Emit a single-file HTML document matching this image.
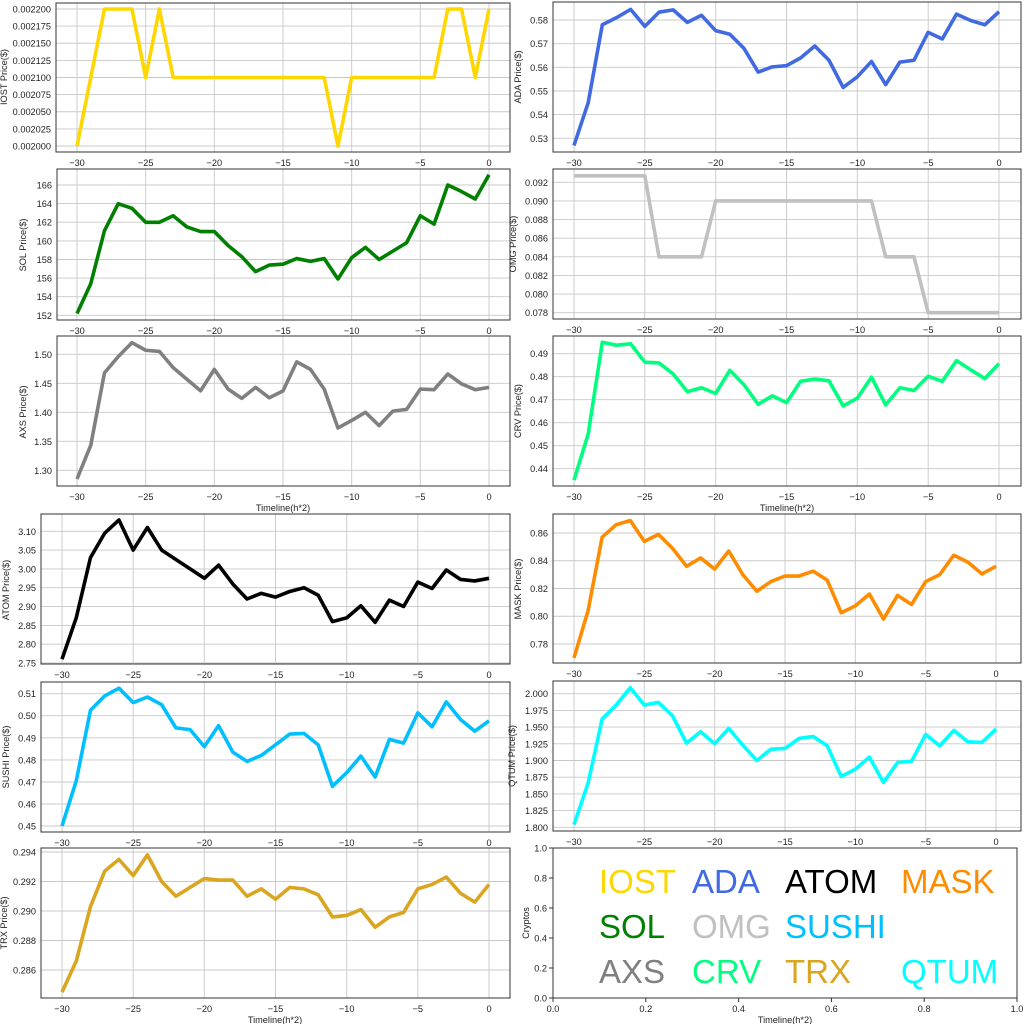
<!DOCTYPE html>
<html><head><meta charset="utf-8"><style>
html,body{margin:0;padding:0;background:#fff}
svg{display:block}
text{font-family:"Liberation Sans","DejaVu Sans",sans-serif;fill:#222}
.t{font-size:9.2px}
.g{stroke:#c8c8c8;stroke-width:0.9}
.b{fill:none;stroke:#333;stroke-width:1}
.l{fill:none;stroke-width:3.6;stroke-linejoin:round;vector-effect:non-scaling-stroke}
</style></head><body>
<svg width="1024" height="1024" xmlns="http://www.w3.org/2000/svg">
<rect width="1024" height="1024" fill="#fff"/>

<!-- IOST -->
<g>
<path class="g" d="M77 3V152M145.7 3V152M214.3 3V152M283 3V152M351.7 3V152M420.3 3V152M489 3V152M56 146H510M56 128.9H510M56 111.75H510M56 94.6H510M56 77.5H510M56 60.4H510M56 43.25H510M56 26.1H510M56 9H510"/>
<polyline class="l" stroke="#FFD700" transform="matrix(13.733,0,0,-0.685,489,1516)" points="-30,2000 -29,2100 -28,2200 -27,2200 -26,2200 -25,2100 -24,2200 -23,2100 -22,2100 -21,2100 -20,2100 -19,2100 -18,2100 -17,2100 -16,2100 -15,2100 -14,2100 -13,2100 -12,2100 -11,2000 -10,2100 -9,2100 -8,2100 -7,2100 -6,2100 -5,2100 -4,2100 -3,2200 -2,2200 -1,2100 0,2200"/>
<rect class="b" x="56" y="3" width="454" height="149"/>
<g class="t" text-anchor="end"><text x="51" y="149.5">0.002000</text><text x="51" y="132.4">0.002025</text><text x="51" y="115.2">0.002050</text><text x="51" y="98.1">0.002075</text><text x="51" y="81">0.002100</text><text x="51" y="63.9">0.002125</text><text x="51" y="46.7">0.002150</text><text x="51" y="29.6">0.002175</text><text x="51" y="12.5">0.002200</text></g>
<g class="t" text-anchor="middle"><text x="77" y="166">−30</text><text x="145.7" y="166">−25</text><text x="214.3" y="166">−20</text><text x="283" y="166">−15</text><text x="351.7" y="166">−10</text><text x="420.3" y="166">−5</text><text x="489" y="166">0</text></g>
<text class="t" transform="translate(7,77) rotate(-90)" text-anchor="middle">IOST Price($)</text>
</g>

<!-- ADA -->
<g>
<path class="g" d="M574 2V152M644.8 2V152M715.7 2V152M786.5 2V152M857.3 2V152M928.2 2V152M999 2V152M553 138.3H1021M553 114.6H1021M553 91H1021M553 67.3H1021M553 43.7H1021M553 20H1021"/>
<polyline class="l" stroke="#4169E1" transform="matrix(14.167,0,0,-2366,999,1392.3)" points="-30,.527 -29,.545 -28,.578 -27,.581 -26,.5845 -25,.5773 -24,.5833 -23,.5843 -22,.579 -21,.582 -20,.5755 -19,.574 -18,.568 -17,.558 -16,.5602 -15,.5607 -14,.564 -13,.569 -12,.563 -11,.5515 -10,.556 -9,.5625 -8,.5527 -7,.5622 -6,.563 -5,.5748 -4,.572 -3,.5825 -2,.5798 -1,.578 0,.5835"/>
<rect class="b" x="553" y="2" width="468" height="150"/>
<g class="t" text-anchor="end"><text x="548" y="141.8">0.53</text><text x="548" y="118.1">0.54</text><text x="548" y="94.5">0.55</text><text x="548" y="70.8">0.56</text><text x="548" y="47.2">0.57</text><text x="548" y="23.5">0.58</text></g>
<g class="t" text-anchor="middle"><text x="574" y="166">−30</text><text x="644.8" y="166">−25</text><text x="715.7" y="166">−20</text><text x="786.5" y="166">−15</text><text x="857.3" y="166">−10</text><text x="928.2" y="166">−5</text><text x="999" y="166">0</text></g>
<text class="t" transform="translate(521,77) rotate(-90)" text-anchor="middle">ADA  Price($)</text>
</g>

<!-- SOL -->
<g>
<path class="g" d="M77 169V320M145.7 169V320M214.3 169V320M283 169V320M351.7 169V320M420.3 169V320M489 169V320M57 315.3H510M57 296.7H510M57 278.1H510M57 259.5H510M57 240.9H510M57 222.2H510M57 203.6H510M57 185H510"/>
<polyline class="l" stroke="#008000" transform="matrix(13.733,0,0,-9.307,489,1730)" points="-30,152.2 -29,155.4 -28,161.1 -27,164 -26,163.5 -25,162 -24,162 -23,162.7 -22,161.5 -21,161 -20,161 -19,159.5 -18,158.3 -17,156.7 -16,157.4 -15,157.5 -14,158.1 -13,157.8 -12,158.1 -11,155.9 -10,158.2 -9,159.3 -8,158 -7,158.9 -6,159.8 -5,162.7 -4,161.8 -3,166 -2,165.3 -1,164.5 0,167.1"/>
<rect class="b" x="57" y="169" width="453" height="151"/>
<g class="t" text-anchor="end"><text x="52" y="318.8">152</text><text x="52" y="300.2">154</text><text x="52" y="281.6">156</text><text x="52" y="263">158</text><text x="52" y="244.4">160</text><text x="52" y="225.7">162</text><text x="52" y="207.1">164</text><text x="52" y="188.5">166</text></g>
<g class="t" text-anchor="middle"><text x="77" y="334">−30</text><text x="145.7" y="334">−25</text><text x="214.3" y="334">−20</text><text x="283" y="334">−15</text><text x="351.7" y="334">−10</text><text x="420.3" y="334">−5</text><text x="489" y="334">0</text></g>
<text class="t" transform="translate(26,245) rotate(-90)" text-anchor="middle">SOL Price($)</text>
</g>

<!-- OMG -->
<g>
<path class="g" d="M574 169V319M644.8 169V319M715.7 169V319M786.5 169V319M857.3 169V319M928.2 169V319M999 169V319M553 312.7H1021M553 294.1H1021M553 275.4H1021M553 256.8H1021M553 238.2H1021M553 219.6H1021M553 200.9H1021M553 182.3H1021"/>
<polyline class="l" stroke="#C0C0C0" transform="matrix(14.167,0,0,-9314,999,1039.2)" points="-30,.0927 -29,.0927 -28,.0927 -27,.0927 -26,.0927 -25,.0927 -24,.084 -23,.084 -22,.084 -21,.084 -20,.090 -19,.090 -18,.090 -17,.090 -16,.090 -15,.090 -14,.090 -13,.090 -12,.090 -11,.090 -10,.090 -9,.090 -8,.084 -7,.084 -6,.084 -5,.078 -4,.078 -3,.078 -2,.078 -1,.078 0,.078"/>
<rect class="b" x="553" y="169" width="468" height="150"/>
<g class="t" text-anchor="end"><text x="548" y="316.2">0.078</text><text x="548" y="297.6">0.080</text><text x="548" y="278.9">0.082</text><text x="548" y="260.3">0.084</text><text x="548" y="241.7">0.086</text><text x="548" y="223.1">0.088</text><text x="548" y="204.4">0.090</text><text x="548" y="185.8">0.092</text></g>
<g class="t" text-anchor="middle"><text x="574" y="333">−30</text><text x="644.8" y="333">−25</text><text x="715.7" y="333">−20</text><text x="786.5" y="333">−15</text><text x="857.3" y="333">−10</text><text x="928.2" y="333">−5</text><text x="999" y="333">0</text></g>
<text class="t" transform="translate(516,244) rotate(-90)" text-anchor="middle">OMG  Price($)</text>
</g>

<!-- AXS -->
<g>
<path class="g" d="M77 336V486M145.7 336V486M214.3 336V486M283 336V486M351.7 336V486M420.3 336V486M489 336V486M57 470.3H510M57 441.3H510M57 412.3H510M57 383.3H510M57 354.3H510"/>
<polyline class="l" stroke="#808080" transform="matrix(13.733,0,0,-580,489,1224.3)" points="-30,1.285 -29,1.343 -28,1.468 -27,1.496 -26,1.52 -25,1.507 -24,1.505 -23,1.477 -22,1.457 -21,1.437 -20,1.474 -19,1.44 -18,1.424 -17,1.443 -16,1.425 -15,1.437 -14,1.487 -13,1.474 -12,1.44 -11,1.373 -10,1.386 -9,1.4 -8,1.377 -7,1.402 -6,1.405 -5,1.44 -4,1.439 -3,1.466 -2,1.449 -1,1.439 0,1.443"/>
<rect class="b" x="57" y="336" width="453" height="150"/>
<g class="t" text-anchor="end"><text x="52" y="473.8">1.30</text><text x="52" y="444.8">1.35</text><text x="52" y="415.8">1.40</text><text x="52" y="386.8">1.45</text><text x="52" y="357.8">1.50</text></g>
<g class="t" text-anchor="middle"><text x="77" y="500">−30</text><text x="145.7" y="500">−25</text><text x="214.3" y="500">−20</text><text x="283" y="500">−15</text><text x="351.7" y="500">−10</text><text x="420.3" y="500">−5</text><text x="489" y="500">0</text></g>
<text class="t" x="283" y="511" text-anchor="middle">Timeline(h*2)</text>
<text class="t" transform="translate(26,412) rotate(-90)" text-anchor="middle">AXS Price($)</text>
</g>

<!-- CRV -->
<g>
<path class="g" d="M574 336V486M644.8 336V486M715.7 336V486M786.5 336V486M857.3 336V486M928.2 336V486M999 336V486M553 468.7H1021M553 445.7H1021M553 422.7H1021M553 399.7H1021M553 376.7H1021M553 353.7H1021"/>
<polyline class="l" stroke="#00FF7F" transform="matrix(14.167,0,0,-2300,999,1480.7)" points="-30,.435 -29,.455 -28,.495 -27,.4937 -26,.4943 -25,.4863 -24,.486 -23,.4812 -22,.4735 -21,.4752 -20,.4727 -19,.4828 -18,.4765 -17,.468 -16,.4717 -15,.4687 -14,.478 -13,.479 -12,.4782 -11,.4673 -10,.4707 -9,.4798 -8,.4677 -7,.4752 -6,.474 -5,.4802 -4,.478 -3,.487 -2,.483 -1,.4792 0,.4857"/>
<rect class="b" x="553" y="336" width="468" height="150"/>
<g class="t" text-anchor="end"><text x="548" y="472.2">0.44</text><text x="548" y="449.2">0.45</text><text x="548" y="426.2">0.46</text><text x="548" y="403.2">0.47</text><text x="548" y="380.2">0.48</text><text x="548" y="357.2">0.49</text></g>
<g class="t" text-anchor="middle"><text x="574" y="500">−30</text><text x="644.8" y="500">−25</text><text x="715.7" y="500">−20</text><text x="786.5" y="500">−15</text><text x="857.3" y="500">−10</text><text x="928.2" y="500">−5</text><text x="999" y="500">0</text></g>
<text class="t" x="787" y="511" text-anchor="middle">Timeline(h*2)</text>
<text class="t" transform="translate(521,411) rotate(-90)" text-anchor="middle">CRV  Price($)</text>
</g>

<!-- ATOM -->
<g>
<path class="g" d="M62 514V664M133.2 514V664M204.3 514V664M275.5 514V664M346.7 514V664M417.8 514V664M489 514V664M41 663H510M41 644.2H510M41 625.4H510M41 606.6H510M41 587.7H510M41 568.9H510M41 550.1H510M41 531.3H510"/>
<polyline class="l" stroke="#000" transform="matrix(14.233,0,0,-376.3,489,1697.8)" points="-30,2.76 -29,2.87 -28,3.03 -27,3.095 -26,3.13 -25,3.05 -24,3.11 -23,3.05 -22,3.025 -21,3.0 -20,2.975 -19,3.01 -18,2.96 -17,2.92 -16,2.935 -15,2.925 -14,2.94 -13,2.95 -12,2.93 -11,2.86 -10,2.87 -9,2.902 -8,2.858 -7,2.917 -6,2.9 -5,2.965 -4,2.948 -3,2.997 -2,2.972 -1,2.968 0,2.975"/>
<rect class="b" x="41" y="514" width="469" height="150"/>
<g class="t" text-anchor="end"><text x="36" y="666.5">2.75</text><text x="36" y="647.7">2.80</text><text x="36" y="628.9">2.85</text><text x="36" y="610.1">2.90</text><text x="36" y="591.2">2.95</text><text x="36" y="572.4">3.00</text><text x="36" y="553.6">3.05</text><text x="36" y="534.8">3.10</text></g>
<g class="t" text-anchor="middle"><text x="62" y="678">−30</text><text x="133.2" y="678">−25</text><text x="204.3" y="678">−20</text><text x="275.5" y="678">−15</text><text x="346.7" y="678">−10</text><text x="417.8" y="678">−5</text><text x="489" y="678">0</text></g>
<text class="t" transform="translate(9,590) rotate(-90)" text-anchor="middle">ATOM  Price($)</text>
</g>

<!-- MASK -->
<g>
<path class="g" d="M574 514V663M644.3 514V663M714.7 514V663M785 514V663M855.3 514V663M925.7 514V663M996 514V663M553 644H1021M553 616.25H1021M553 588.5H1021M553 560.75H1021M553 533H1021"/>
<polyline class="l" stroke="#FF8C00" transform="matrix(14.067,0,0,-1387.5,996,1726.25)" points="-30,.77 -29,.804 -28,.857 -27,.866 -26,.869 -25,.854 -24,.859 -23,.849 -22,.836 -21,.842 -20,.834 -19,.847 -18,.83 -17,.818 -16,.825 -15,.829 -14,.829 -13,.8325 -12,.826 -11,.8025 -10,.8075 -9,.816 -8,.798 -7,.815 -6,.8085 -5,.825 -4,.83 -3,.844 -2,.839 -1,.8305 0,.836"/>
<rect class="b" x="553" y="514" width="468" height="149"/>
<g class="t" text-anchor="end"><text x="548" y="647.5">0.78</text><text x="548" y="619.7">0.80</text><text x="548" y="592">0.82</text><text x="548" y="564.2">0.84</text><text x="548" y="536.5">0.86</text></g>
<g class="t" text-anchor="middle"><text x="574" y="677">−30</text><text x="644.3" y="677">−25</text><text x="714.7" y="677">−20</text><text x="785" y="677">−15</text><text x="855.3" y="677">−10</text><text x="925.7" y="677">−5</text><text x="996" y="677">0</text></g>
<text class="t" transform="translate(521,589) rotate(-90)" text-anchor="middle">MASK  Price($)</text>
</g>

<!-- SUSHI -->
<g>
<path class="g" d="M62 682V832M133.2 682V832M204.3 682V832M275.5 682V832M346.7 682V832M417.8 682V832M489 682V832M41 826H510M41 804H510M41 782H510M41 759.9H510M41 737.8H510M41 715.7H510M41 693.7H510"/>
<polyline class="l" stroke="#00BFFF" transform="matrix(14.233,0,0,-2205,489,1818.25)" points="-30,.45 -29,.4705 -28,.5025 -27,.509 -26,.5125 -25,.506 -24,.5085 -23,.505 -22,.4945 -21,.4937 -20,.486 -19,.4955 -18,.4835 -17,.4793 -16,.482 -15,.4868 -14,.4917 -13,.492 -12,.4868 -11,.468 -10,.4742 -9,.4817 -8,.4722 -7,.4893 -6,.4876 -5,.5013 -4,.495 -3,.5063 -2,.4983 -1,.493 0,.4977"/>
<rect class="b" x="41" y="682" width="469" height="150"/>
<g class="t" text-anchor="end"><text x="36" y="829.5">0.45</text><text x="36" y="807.5">0.46</text><text x="36" y="785.5">0.47</text><text x="36" y="763.4">0.48</text><text x="36" y="741.3">0.49</text><text x="36" y="719.2">0.50</text><text x="36" y="697.2">0.51</text></g>
<g class="t" text-anchor="middle"><text x="62" y="846">−30</text><text x="133.2" y="846">−25</text><text x="204.3" y="846">−20</text><text x="275.5" y="846">−15</text><text x="346.7" y="846">−10</text><text x="417.8" y="846">−5</text><text x="489" y="846">0</text></g>
<text class="t" transform="translate(9,757) rotate(-90)" text-anchor="middle">SUSHI  Price($)</text>
</g>

<!-- QTUM -->
<g>
<path class="g" d="M574 681V831M644.3 681V831M714.7 681V831M785 681V831M855.3 681V831M925.7 681V831M996 681V831M553 827.3H1021M553 810.6H1021M553 793.9H1021M553 777.2H1021M553 760.5H1021M553 743.8H1021M553 727.1H1021M553 710.4H1021M553 693.7H1021"/>
<polyline class="l" stroke="#00FFFF" transform="matrix(14.067,0,0,-668,996,2029.7)" points="-30,1.804 -29,1.866 -28,1.962 -27,1.983 -26,2.009 -25,1.983 -24,1.987 -23,1.967 -22,1.926 -21,1.943 -20,1.925 -19,1.948 -18,1.923 -17,1.9 -16,1.917 -15,1.918 -14,1.933 -13,1.936 -12,1.922 -11,1.876 -10,1.887 -9,1.905 -8,1.867 -7,1.897 -6,1.899 -5,1.939 -4,1.922 -3,1.945 -2,1.928 -1,1.927 0,1.947"/>
<rect class="b" x="553" y="681" width="468" height="150"/>
<g class="t" text-anchor="end"><text x="548" y="830.8">1.800</text><text x="548" y="814.1">1.825</text><text x="548" y="797.4">1.850</text><text x="548" y="780.7">1.875</text><text x="548" y="764">1.900</text><text x="548" y="747.3">1.925</text><text x="548" y="730.6">1.950</text><text x="548" y="713.9">1.975</text><text x="548" y="697.2">2.000</text></g>
<g class="t" text-anchor="middle"><text x="574" y="845">−30</text><text x="644.3" y="845">−25</text><text x="714.7" y="845">−20</text><text x="785" y="845">−15</text><text x="855.3" y="845">−10</text><text x="925.7" y="845">−5</text><text x="996" y="845">0</text></g>
<text class="t" transform="translate(515,756) rotate(-90)" text-anchor="middle">QTUM Price($)</text>
</g>

<!-- TRX -->
<g>
<path class="g" d="M62 848V998M133.2 848V998M204.3 848V998M275.5 848V998M346.7 848V998M417.8 848V998M489 848V998M41 970H510M41 940.5H510M41 911H510M41 881.5H510M41 852H510"/>
<polyline class="l" stroke="#DAA520" transform="matrix(14.233,0,0,-14750,489,5188.5)" points="-30,.2845 -29,.2866 -28,.2903 -27,.2927 -26,.2935 -25,.2924 -24,.2938 -23,.292 -22,.291 -21,.2916 -20,.2922 -19,.2921 -18,.2921 -17,.291 -16,.2915 -15,.2908 -14,.2916 -13,.2915 -12,.2911 -11,.2896 -10,.2897 -9,.2901 -8,.2889 -7,.2896 -6,.2899 -5,.2915 -4,.2918 -3,.2923 -2,.2912 -1,.2906 0,.2918"/>
<rect class="b" x="41" y="848" width="469" height="150"/>
<g class="t" text-anchor="end"><text x="36" y="973.5">0.286</text><text x="36" y="944">0.288</text><text x="36" y="914.5">0.290</text><text x="36" y="885">0.292</text><text x="36" y="855.5">0.294</text></g>
<g class="t" text-anchor="middle"><text x="62" y="1012">−30</text><text x="133.2" y="1012">−25</text><text x="204.3" y="1012">−20</text><text x="275.5" y="1012">−15</text><text x="346.7" y="1012">−10</text><text x="417.8" y="1012">−5</text><text x="489" y="1012">0</text></g>
<text class="t" x="275" y="1023" text-anchor="middle">Timeline(h*2)</text>
<text class="t" transform="translate(7,923) rotate(-90)" text-anchor="middle">TRX Price($)</text>
</g>

<!-- Legend panel -->
<g>
<rect class="b" x="553" y="848" width="464" height="150"/>
<path stroke="#333" stroke-width="1" d="M553 998v4M645.8 998v4M738.6 998v4M831.4 998v4M924.2 998v4M1017 998v4M553 998h-4M553 968h-4M553 938h-4M553 908h-4M553 878h-4M553 848h-4"/>
<g class="t" text-anchor="end"><text x="547" y="1001.5">0.0</text><text x="547" y="971.5">0.2</text><text x="547" y="941.5">0.4</text><text x="547" y="911.5">0.6</text><text x="547" y="881.5">0.8</text><text x="547" y="851.5">1.0</text></g>
<g class="t" text-anchor="middle"><text x="553" y="1012">0.0</text><text x="645.8" y="1012">0.2</text><text x="738.6" y="1012">0.4</text><text x="831.4" y="1012">0.6</text><text x="924.2" y="1012">0.8</text><text x="1017" y="1012">1.0</text></g>
<text class="t" x="785" y="1023" text-anchor="middle">Timeline(h*2)</text>
<text class="t" transform="translate(529,923) rotate(-90)" text-anchor="middle">Cryptos</text>
<g style="font-size:33px">
<text x="599" y="893" style="fill:#FFD700">IOST</text>
<text x="692" y="893" style="fill:#4169E1">ADA</text>
<text x="785" y="893" style="fill:#000">ATOM</text>
<text x="901" y="893" style="fill:#FF8C00">MASK</text>
<text x="599" y="938" style="fill:#008000">SOL</text>
<text x="692" y="938" style="fill:#C0C0C0">OMG</text>
<text x="785" y="938" style="fill:#00BFFF">SUSHI</text>
<text x="599" y="983" style="fill:#808080">AXS</text>
<text x="692" y="983" style="fill:#00FF7F">CRV</text>
<text x="785" y="983" style="fill:#DAA520">TRX</text>
<text x="901" y="983" style="fill:#00FFFF">QTUM</text>
</g>
</g>
</svg>
</body></html>
